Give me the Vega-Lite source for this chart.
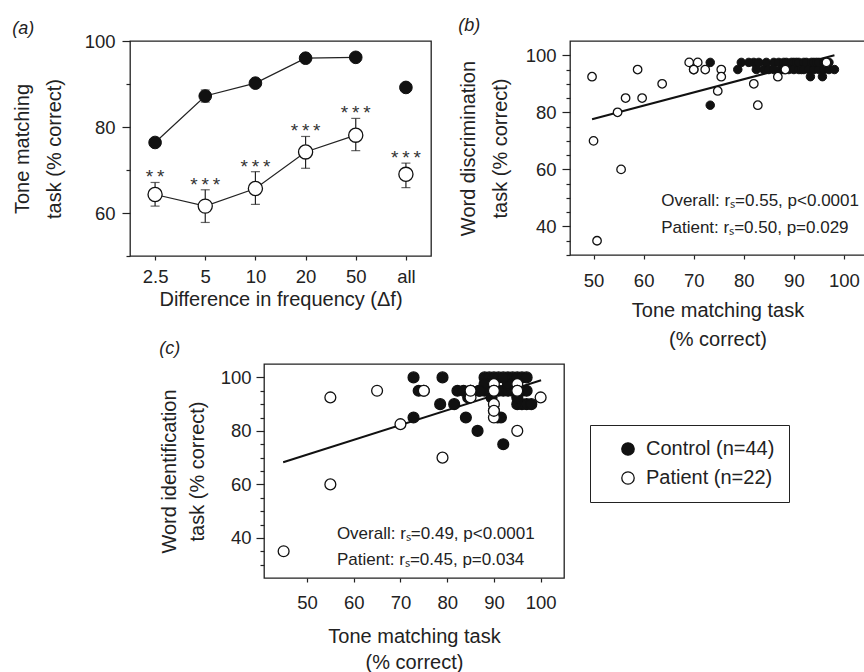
{
  "$schema": "https://vega.github.io/schema/vega-lite/v6.json",
  "padding": {"left": 11, "top": 16, "right": 0, "bottom": 0},
  "background": "white",
  "config": {
    "font": "Liberation Sans",
    "view": {"stroke": "#222", "strokeWidth": 1.3},
    "axis": {"domain": false, "grid": false, "tickColor": "#222", "tickWidth": 1.2, "labelColor": "#222", "labelFontSize": 18.5, "titleFontSize": 20, "titleFontWeight": "normal", "titleColor": "#222", "labelFont": "Liberation Sans", "titleFont": "Liberation Sans", "titleLineHeight": 29},
    "title": {"fontSize": 18, "fontWeight": "normal", "fontStyle": "italic", "anchor": "start", "frame": "bounds", "color": "#222", "offset": 0}
  },
  "datasets": {
    "tone": [
      {"freq": "2.5", "group": "Control", "mean": 76.4},
      {"freq": "5", "group": "Control", "mean": 87.2, "lo": 85.8, "hi": 88.6},
      {"freq": "10", "group": "Control", "mean": 90.2},
      {"freq": "20", "group": "Control", "mean": 96.0},
      {"freq": "50", "group": "Control", "mean": 96.2},
      {"freq": "all", "group": "Control", "mean": 89.2},
      {"freq": "2.5", "group": "Patient", "mean": 64.3, "lo": 61.6, "hi": 67.1, "stars": "*\u2009*"},
      {"freq": "5", "group": "Patient", "mean": 61.6, "lo": 57.8, "hi": 65.4, "stars": "*\u2009*\u2009*"},
      {"freq": "10", "group": "Patient", "mean": 65.7, "lo": 62.0, "hi": 69.6, "stars": "*\u2009*\u2009*"},
      {"freq": "20", "group": "Patient", "mean": 74.2, "lo": 70.4, "hi": 77.8, "stars": "*\u2009*\u2009*"},
      {"freq": "50", "group": "Patient", "mean": 78.1, "lo": 74.5, "hi": 82.0, "stars": "*\u2009*\u2009*"},
      {"freq": "all", "group": "Patient", "mean": 69.0, "lo": 65.9, "hi": 71.6, "stars": "*\u2009*\u2009*"}
    ],
    "disc": [
      {"group": "Control", "tone": 73.3, "word": 97.5}, {"group": "Control", "tone": 73.3, "word": 82.5},
      {"group": "Control", "tone": 78.8, "word": 95}, {"group": "Control", "tone": 79.5, "word": 97.5},
      {"group": "Control", "tone": 82, "word": 97.5}, {"group": "Control", "tone": 82.5, "word": 95},
      {"group": "Control", "tone": 83, "word": 97.5}, {"group": "Control", "tone": 84, "word": 95},
      {"group": "Control", "tone": 84.5, "word": 97.5}, {"group": "Control", "tone": 85, "word": 95},
      {"group": "Control", "tone": 86, "word": 97.5}, {"group": "Control", "tone": 87, "word": 97.5},
      {"group": "Control", "tone": 87.5, "word": 95}, {"group": "Control", "tone": 88, "word": 97.5},
      {"group": "Control", "tone": 88.5, "word": 97.5}, {"group": "Control", "tone": 89, "word": 95},
      {"group": "Control", "tone": 89.5, "word": 97.5}, {"group": "Control", "tone": 90, "word": 97.5},
      {"group": "Control", "tone": 90, "word": 95}, {"group": "Control", "tone": 90.5, "word": 97.5},
      {"group": "Control", "tone": 91, "word": 95}, {"group": "Control", "tone": 91, "word": 97.5},
      {"group": "Control", "tone": 91.5, "word": 95}, {"group": "Control", "tone": 92, "word": 97.5},
      {"group": "Control", "tone": 92, "word": 95}, {"group": "Control", "tone": 92.5, "word": 97.5},
      {"group": "Control", "tone": 93, "word": 95}, {"group": "Control", "tone": 93.3, "word": 92.5},
      {"group": "Control", "tone": 93.5, "word": 97.5}, {"group": "Control", "tone": 94, "word": 95},
      {"group": "Control", "tone": 94, "word": 97.5}, {"group": "Control", "tone": 94.5, "word": 97.5},
      {"group": "Control", "tone": 95, "word": 95}, {"group": "Control", "tone": 95, "word": 97.5},
      {"group": "Control", "tone": 95.7, "word": 92.5}, {"group": "Control", "tone": 96, "word": 95},
      {"group": "Control", "tone": 96.5, "word": 97.5}, {"group": "Control", "tone": 97, "word": 95},
      {"group": "Control", "tone": 97, "word": 97.5}, {"group": "Control", "tone": 98.1, "word": 95},
      {"group": "Control", "tone": 86, "word": 95}, {"group": "Control", "tone": 88, "word": 95},
      {"group": "Control", "tone": 81, "word": 97.5}, {"group": "Control", "tone": 96, "word": 97.5},
      {"group": "Patient", "tone": 49.7, "word": 92.5}, {"group": "Patient", "tone": 50, "word": 70},
      {"group": "Patient", "tone": 50.7, "word": 35}, {"group": "Patient", "tone": 54.8, "word": 80},
      {"group": "Patient", "tone": 55.5, "word": 60}, {"group": "Patient", "tone": 56.4, "word": 85},
      {"group": "Patient", "tone": 58.8, "word": 95}, {"group": "Patient", "tone": 59.7, "word": 85},
      {"group": "Patient", "tone": 63.7, "word": 90}, {"group": "Patient", "tone": 69.1, "word": 97.5},
      {"group": "Patient", "tone": 70, "word": 95}, {"group": "Patient", "tone": 70.8, "word": 97.5},
      {"group": "Patient", "tone": 72.3, "word": 95}, {"group": "Patient", "tone": 75.5, "word": 95},
      {"group": "Patient", "tone": 75.5, "word": 92.5}, {"group": "Patient", "tone": 74.8, "word": 87.5},
      {"group": "Patient", "tone": 82, "word": 90}, {"group": "Patient", "tone": 82.8, "word": 82.5},
      {"group": "Patient", "tone": 86.8, "word": 92.5}, {"group": "Patient", "tone": 88.3, "word": 95},
      {"group": "Patient", "tone": 96.5, "word": 97.5}, {"group": "Patient", "tone": 70, "word": 95}
    ],
    "ident": [
      {"group": "Control", "tone": 72.8, "word": 100}, {"group": "Control", "tone": 72.8, "word": 85},
      {"group": "Control", "tone": 73.9, "word": 95}, {"group": "Control", "tone": 79, "word": 100},
      {"group": "Control", "tone": 78.5, "word": 90}, {"group": "Control", "tone": 81.5, "word": 90},
      {"group": "Control", "tone": 82.2, "word": 95}, {"group": "Control", "tone": 84, "word": 85},
      {"group": "Control", "tone": 86.5, "word": 80}, {"group": "Control", "tone": 92, "word": 75},
      {"group": "Control", "tone": 90.8, "word": 85}, {"group": "Control", "tone": 88, "word": 100},
      {"group": "Control", "tone": 89, "word": 100}, {"group": "Control", "tone": 90, "word": 100},
      {"group": "Control", "tone": 91, "word": 100}, {"group": "Control", "tone": 93, "word": 100},
      {"group": "Control", "tone": 94, "word": 100}, {"group": "Control", "tone": 95, "word": 100},
      {"group": "Control", "tone": 96, "word": 100}, {"group": "Control", "tone": 97, "word": 100},
      {"group": "Control", "tone": 83.5, "word": 95}, {"group": "Control", "tone": 85, "word": 95},
      {"group": "Control", "tone": 86.8, "word": 95}, {"group": "Control", "tone": 88, "word": 95},
      {"group": "Control", "tone": 89, "word": 95}, {"group": "Control", "tone": 91, "word": 95},
      {"group": "Control", "tone": 92, "word": 95}, {"group": "Control", "tone": 93, "word": 95},
      {"group": "Control", "tone": 94, "word": 95}, {"group": "Control", "tone": 96, "word": 95},
      {"group": "Control", "tone": 97, "word": 95}, {"group": "Control", "tone": 95, "word": 90},
      {"group": "Control", "tone": 96, "word": 90}, {"group": "Control", "tone": 97, "word": 90},
      {"group": "Control", "tone": 98, "word": 90}, {"group": "Control", "tone": 84.5, "word": 92.5},
      {"group": "Control", "tone": 89.5, "word": 92.5}, {"group": "Control", "tone": 90, "word": 87.5},
      {"group": "Control", "tone": 91.5, "word": 85}, {"group": "Control", "tone": 88, "word": 97.5},
      {"group": "Control", "tone": 93, "word": 97.5}, {"group": "Control", "tone": 95, "word": 92.5},
      {"group": "Control", "tone": 87, "word": 95}, {"group": "Control", "tone": 92, "word": 100},
      {"group": "Patient", "tone": 45, "word": 35}, {"group": "Patient", "tone": 55, "word": 92.5},
      {"group": "Patient", "tone": 55, "word": 60}, {"group": "Patient", "tone": 65, "word": 95},
      {"group": "Patient", "tone": 70, "word": 82.5}, {"group": "Patient", "tone": 75, "word": 95},
      {"group": "Patient", "tone": 79, "word": 70}, {"group": "Patient", "tone": 85, "word": 95},
      {"group": "Patient", "tone": 85, "word": 92.5}, {"group": "Patient", "tone": 90, "word": 97.5},
      {"group": "Patient", "tone": 90, "word": 95}, {"group": "Patient", "tone": 90, "word": 90},
      {"group": "Patient", "tone": 90, "word": 85}, {"group": "Patient", "tone": 95, "word": 97.5},
      {"group": "Patient", "tone": 95, "word": 95}, {"group": "Patient", "tone": 95, "word": 80},
      {"group": "Patient", "tone": 100, "word": 92.5}, {"group": "Patient", "tone": 90, "word": 87.5},
      {"group": "Patient", "tone": 95, "word": 95}, {"group": "Patient", "tone": 85, "word": 95},
      {"group": "Patient", "tone": 75, "word": 95}, {"group": "Patient", "tone": 90, "word": 95}
    ],
    "fit_b": [{"tone": 49.7, "word": 77.6}, {"tone": 98.1, "word": 100}],
    "fit_c": [{"tone": 44.9, "word": 68.3}, {"tone": 100.1, "word": 98.9}],
    "note_b": [{"tone": 63.5, "word": 47.3, "t": "Overall: rₛ=0.55, p<0.0001"}, {"tone": 63.5, "word": 37.8, "t": "Patient: rₛ=0.50, p=0.029"}],
    "note_c": [{"tone": 56.4, "word": 39.4, "t": "Overall: rₛ=0.49, p<0.0001"}, {"tone": 56.4, "word": 29.8, "t": "Patient: rₛ=0.45, p=0.034"}]
  },
  "spacing": -12,
  "resolve": {"scale": {"fill": "independent"}, "legend": {"fill": "independent"}},
  "vconcat": [
    {
      "spacing": 25,
      "resolve": {"scale": {"fill": "independent"}, "legend": {"fill": "independent"}},
      "hconcat": [
        {
          "width": 301,
          "height": 215,
          "title": {"text": "(a)", "offset": -6},
          "data": {"name": "tone"},
          "encoding": {
            "x": {"field": "freq", "type": "ordinal", "scale": {"type": "point", "domain": ["2.5", "5", "10", "20", "50", "all"], "padding": 0.5},
                  "axis": {"title": "Difference in frequency (Δf)", "labelAngle": 0, "tickSize": 4, "labelPadding": 7, "titlePadding": 4}}
          },
          "layer": [
            {
              "transform": [{"filter": "datum.freq !== 'all'"}],
              "mark": {"type": "line", "color": "#222", "strokeWidth": 1.2},
              "encoding": {
                "y": {"field": "mean", "type": "quantitative",
                      "scale": {"domain": [50, 100], "nice": false, "zero": false},
                      "axis": {"title": ["Tone matching", "task (% correct)"], "values": [50, 55, 60, 65, 70, 75, 80, 85, 90, 95, 100],
                               "labelExpr": "datum.value % 20 === 0 ? datum.label : ''",
                               "tickSize": {"condition": {"test": "datum.value % 20 === 0", "value": 8}, "value": 4},
                               "labelPadding": 7, "titlePadding": 20, "titleLineHeight": 32}},
                "detail": {"field": "group"}
              }
            },
            {
              "transform": [{"filter": "isValid(datum.lo)"}],
              "mark": {"type": "rule", "color": "#222", "strokeWidth": 1.2},
              "encoding": {"y": {"field": "lo", "type": "quantitative"}, "y2": {"field": "hi"}}
            },
            {
              "transform": [{"filter": "isValid(datum.lo)"}],
              "mark": {"type": "tick", "color": "#222", "thickness": 1.2, "size": 9},
              "encoding": {"y": {"field": "lo", "type": "quantitative"}}
            },
            {
              "transform": [{"filter": "isValid(datum.hi)"}],
              "mark": {"type": "tick", "color": "#222", "thickness": 1.2, "size": 9},
              "encoding": {"y": {"field": "hi", "type": "quantitative"}}
            },
            {
              "transform": [{"filter": "datum.group === 'Control'"}],
              "mark": {"type": "circle", "fill": "#111", "stroke": "#111", "strokeWidth": 1, "size": 160, "opacity": 1},
              "encoding": {"y": {"field": "mean", "type": "quantitative"}}
            },
            {
              "transform": [{"filter": "datum.group === 'Patient'"}],
              "mark": {"type": "circle", "fill": "white", "stroke": "#111", "strokeWidth": 1.3, "size": 200, "opacity": 1},
              "encoding": {"y": {"field": "mean", "type": "quantitative"}}
            },
            {
              "transform": [{"filter": "isValid(datum.stars)"}],
              "mark": {"type": "text", "fontSize": 19, "color": "#333", "baseline": "alphabetic", "dy": 1},
              "encoding": {"y": {"field": "hi", "type": "quantitative"}, "text": {"field": "stars"}}
            }
          ]
        },
        {
          "width": 295,
          "height": 214,
          "title": {"text": "(b)", "offset": 6},
          "encoding": {
            "x": {"field": "tone", "type": "quantitative", "scale": {"domain": [45.3, 104.2], "nice": false, "zero": false},
                  "axis": {"title": ["Tone matching task", "(% correct)"], "values": [50, 60, 70, 80, 90, 100], "tickSize": 4, "labelPadding": 12, "titlePadding": 11, "titleLineHeight": 29}},
            "y": {"field": "word", "type": "quantitative", "scale": {"domain": [30, 105], "nice": false, "zero": false},
                  "axis": {"title": ["Word discrimination", "task (% correct)"], "values": [30, 35, 40, 45, 50, 55, 60, 65, 70, 75, 80, 85, 90, 95, 100],
                           "labelExpr": "datum.value % 20 === 0 ? datum.label : ''",
                           "tickSize": {"condition": {"test": "datum.value % 20 === 0", "value": 8}, "value": 4},
                           "labelPadding": 6, "titlePadding": 15, "titleLineHeight": 32}}
          },
          "layer": [
            {"data": {"name": "fit_b"}, "mark": {"type": "line", "color": "#111", "strokeWidth": 2}},
            {"data": {"name": "disc"}, "transform": [{"filter": "datum.group === 'Control'"}],
             "mark": {"type": "circle", "fill": "#111", "stroke": "#111", "strokeWidth": 1, "size": 72, "opacity": 1}},
            {"data": {"name": "disc"}, "transform": [{"filter": "datum.group === 'Patient'"}],
             "mark": {"type": "circle", "fill": "white", "stroke": "#111", "strokeWidth": 1.3, "size": 72, "opacity": 1}},
            {"data": {"name": "note_b"}, "mark": {"type": "text", "align": "left", "baseline": "alphabetic", "fontSize": 17, "color": "#222"},
             "encoding": {"text": {"field": "t"}}}
          ]
        }
      ]
    },
    {
      "spacing": 22,
      "resolve": {"scale": {"fill": "independent"}, "legend": {"fill": "independent"}},
      "hconcat": [
        {
          "width": 6,
          "height": 10,
          "view": {"stroke": null},
          "data": {"values": []},
          "mark": {"type": "point", "opacity": 0},
          "encoding": {}
        },
        {
          "width": 300,
          "height": 214,
          "title": {"text": "(c)", "offset": 6},
          "encoding": {
            "x": {"field": "tone", "type": "quantitative", "scale": {"domain": [40.8, 105], "nice": false, "zero": false},
                  "axis": {"title": ["Tone matching task", "(% correct)"], "values": [50, 60, 70, 80, 90, 100], "tickSize": 4, "labelPadding": 11, "titlePadding": 15, "titleLineHeight": 26}},
            "y": {"field": "word", "type": "quantitative", "scale": {"domain": [25, 105], "nice": false, "zero": false},
                  "axis": {"title": ["Word identification", "task (% correct)"], "values": [30, 35, 40, 45, 50, 55, 60, 65, 70, 75, 80, 85, 90, 95, 100],
                           "labelExpr": "datum.value % 20 === 0 ? datum.label : ''",
                           "tickSize": {"condition": {"test": "datum.value % 20 === 0", "value": 8}, "value": 4},
                           "labelPadding": 5, "titlePadding": 13, "titleLineHeight": 28}}
          },
          "layer": [
            {"data": {"name": "fit_c"}, "mark": {"type": "line", "color": "#111", "strokeWidth": 2}},
            {"data": {"name": "ident"},
             "mark": {"type": "circle", "stroke": "#111", "strokeWidth": 1.3, "size": 118, "opacity": 1},
             "encoding": {
               "fill": {"field": "group", "type": "nominal", "scale": {"domain": ["Control", "Patient"], "range": ["#111", "white"]},
                        "legend": {"orient": "none", "legendX": 326, "legendY": 61, "title": null, "strokeColor": "#222",
                                   "padding": 14, "symbolOffset": 14, "symbolSize": 154, "symbolType": "circle",
                                   "symbolStrokeColor": "#111", "symbolStrokeWidth": 1.3, "labelFontSize": 20, "labelColor": "#222",
                                   "labelOffset": 8, "rowPadding": 9, "labelLimit": 300,
                                   "labelExpr": "datum.label === 'Control' ? 'Control (n=44)\u00a0\u00a0\u00a0\u00a0\u00a0\u00a0\u00a0' : 'Patient (n=22)\u00a0\u00a0\u00a0\u00a0\u00a0\u00a0\u00a0'"}}
             }},
            {"data": {"name": "note_c"}, "mark": {"type": "text", "align": "left", "baseline": "alphabetic", "fontSize": 17, "color": "#222"},
             "encoding": {"text": {"field": "t"}}}
          ]
        }
      ]
    }
  ]
}
